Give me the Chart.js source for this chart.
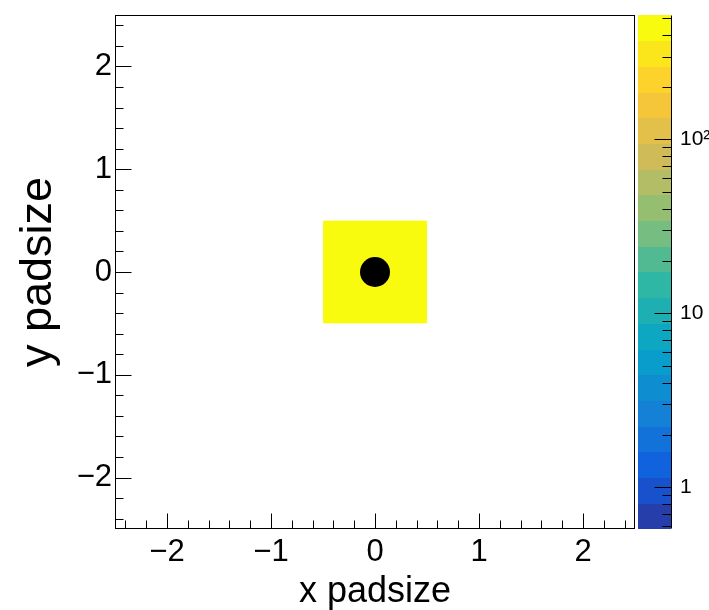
<!DOCTYPE html>
<html>
<head>
<meta charset="utf-8">
<script src="https://cdn.jsdelivr.net/npm/chart.js@4.4.0/dist/chart.umd.min.js"></script>
<style>
  html, body { margin: 0; padding: 0; background: #fff; }
  canvas { display: block; }
</style>
</head>
<body>
<canvas id="c" width="709" height="610"></canvas>
<script>
// axis ticks (ROOT style, drawn inwards)
const xMajor = [-2, -1, 0, 1, 2];
const xMinor = [-2.4, -2.2, -1.8, -1.6, -1.4, -1.2, -0.8, -0.6, -0.4, -0.2,
                0.2, 0.4, 0.6, 0.8, 1.2, 1.4, 1.6, 1.8, 2.2, 2.4];
const yMajor = [-2, -1, 0, 1, 2];
const yMinor = [-2.4, -2.2, -1.8, -1.6, -1.4, -1.2, -0.8, -0.6, -0.4, -0.2,
                0.2, 0.4, 0.6, 0.8, 1.2, 1.4, 1.6, 1.8, 2.2, 2.4];

// colour palette axis (log z)
const zMin = 0.575;
const zMax = 520;
const zMajor = [1, 10, 100];
const zLabels = ["1", "10", "10\u00b2"];
const zMinor = [0.6, 0.7, 0.8, 0.9, 2, 3, 4, 5, 6, 7, 8, 9,
                20, 30, 40, 50, 60, 70, 80, 90, 200, 300, 400, 500];
const nLevels = 20;

// 2D histogram cells (bin centre, content)
const binWidth = 1;
const cellX = [0];
const cellY = [0];
const cellZ = [500];

// marker
const pointX = [0];
const pointY = [0];

// kBird palette stops
const birdStops = [0, 0.125, 0.25, 0.375, 0.5, 0.625, 0.75, 0.875, 1];
const birdR = [0.2082, 0.0592, 0.0780, 0.0232, 0.1802, 0.5301, 0.8186, 0.9956, 0.9764];
const birdG = [0.1664, 0.3599, 0.5041, 0.6419, 0.7178, 0.7492, 0.7328, 0.7862, 0.9832];
const birdB = [0.5293, 0.8684, 0.8385, 0.7914, 0.6425, 0.4662, 0.3499, 0.1968, 0.0539];

function birdColor(f) {
  f = Math.max(0, Math.min(1, f));
  let k = 0;
  while (k < birdStops.length - 2 && f > birdStops[k + 1]) k++;
  const t = (f - birdStops[k]) / (birdStops[k + 1] - birdStops[k]);
  const c = arr => Math.round(255 * (arr[k] + (arr[k + 1] - arr[k]) * t));
  return `rgb(${c(birdR)},${c(birdG)},${c(birdB)})`;
}

function levelColor(i) {
  return birdColor((i + 0.99) / nLevels);
}

function levelOf(z) {
  const lo = Math.log10(zMin), hi = Math.log10(zMax);
  const i = Math.floor((Math.log10(z) - lo) / ((hi - lo) / nLevels));
  return Math.max(0, Math.min(nLevels - 1, i));
}

const fmt = v => (v < 0 ? "\u2212" + Math.abs(v) : String(v));
const FONT = "'Liberation Sans', Arial, Helvetica, sans-serif";

// fixed box sizes, no extra label padding
const fixSize = (w, h) => s => {
  if (w) s.width = w;
  if (h) s.height = h;
  s.paddingTop = 0; s.paddingBottom = 0;
  s.paddingLeft = 0; s.paddingRight = 0;
};

const rootPlot = {
  id: "rootPlot",
  beforeDatasetsDraw(chart) {
    const { ctx, chartArea: a, scales } = chart;
    const xs = scales.x, ys = scales.y, zs = scales.z;

    // histogram cells
    ctx.save();
    ctx.beginPath();
    ctx.rect(a.left, a.top, a.right - a.left, a.bottom - a.top);
    ctx.clip();
    cellZ.forEach((z, i) => {
      const x0 = xs.getPixelForValue(cellX[i] - binWidth / 2);
      const x1 = xs.getPixelForValue(cellX[i] + binWidth / 2);
      const y0 = ys.getPixelForValue(cellY[i] + binWidth / 2);
      const y1 = ys.getPixelForValue(cellY[i] - binWidth / 2);
      ctx.fillStyle = levelColor(levelOf(z));
      ctx.fillRect(x0, y0, x1 - x0, y1 - y0);
    });
    ctx.restore();

    // palette bands
    const lo = Math.log10(zMin), hi = Math.log10(zMax);
    const barL = a.right + 3, barR = a.right + 36;
    ctx.save();
    for (let i = 0; i < nLevels; i++) {
      const yb = zs.getPixelForValue(Math.pow(10, lo + (hi - lo) * i / nLevels));
      const yt = zs.getPixelForValue(Math.pow(10, lo + (hi - lo) * (i + 1) / nLevels));
      ctx.fillStyle = levelColor(i);
      ctx.fillRect(barL, Math.floor(yt), barR - barL, Math.ceil(yb) - Math.floor(yt));
    }
    ctx.restore();
  },
  afterDraw(chart) {
    const { ctx, chartArea: a, scales } = chart;
    const xs = scales.x, ys = scales.y, zs = scales.z;
    const L = Math.round(a.left) + 0.5, R = Math.round(a.right) - 0.5;
    const T = Math.round(a.top) + 0.5, B = Math.round(a.bottom) - 0.5;
    ctx.save();
    ctx.strokeStyle = "#000";
    ctx.lineWidth = 1;
    ctx.strokeRect(L, T, R - L, B - T);

    ctx.beginPath();
    const tickX = (vals, len) => vals.forEach(v => {
      const px = Math.round(xs.getPixelForValue(v)) + 0.5;
      ctx.moveTo(px, B); ctx.lineTo(px, B - len);
    });
    const tickY = (vals, len) => vals.forEach(v => {
      const py = Math.round(ys.getPixelForValue(v)) + 0.5;
      ctx.moveTo(L, py); ctx.lineTo(L + len, py);
    });
    tickX(xMajor, 15); tickX(xMinor, 8);
    tickY(yMajor, 16); tickY(yMinor, 8);

    // palette axis
    const barR = Math.round(a.right) + 36 + 0.5;
    ctx.moveTo(barR, T); ctx.lineTo(barR, B);
    const tickZ = (vals, len) => vals.forEach(v => {
      const py = Math.round(zs.getPixelForValue(v)) + 0.5;
      ctx.moveTo(barR, py); ctx.lineTo(barR - len, py);
    });
    tickZ(zMajor, 17); tickZ(zMinor, 9);
    ctx.stroke();
    ctx.restore();
  }
};

new Chart(document.getElementById("c"), {
  type: "scatter",
  data: {
    datasets: [{
      data: pointX.map((x, i) => ({ x: x, y: pointY[i] })),
      backgroundColor: "#000",
      borderWidth: 0,
      pointRadius: 15,
      pointHoverRadius: 15
    }]
  },
  options: {
    responsive: false,
    animation: false,
    devicePixelRatio: 1,
    layout: { padding: { top: 14, left: 0, right: 0, bottom: 0 } },
    plugins: { legend: { display: false }, tooltip: { enabled: false } },
    scales: {
      x: {
        type: "linear",
        position: "bottom",
        min: -2.5,
        max: 2.5,
        grid: { display: false, drawTicks: false },
        border: { display: false },
        afterBuildTicks: s => { s.ticks = xMajor.map(v => ({ value: v })); },
        afterFit: fixSize(0, 81),
        ticks: {
          autoSkip: false, maxRotation: 0, padding: 5, color: "#000",
          font: { family: FONT, size: 31 },
          callback: v => fmt(v)
        },
        title: {
          display: true, text: "x padsize", color: "#000",
          font: { family: FONT, size: 36, lineHeight: 1 },
          padding: { top: 0, bottom: 0 }
        }
      },
      y: {
        type: "linear",
        position: "left",
        min: -2.5,
        max: 2.5,
        grid: { display: false, drawTicks: false },
        border: { display: false },
        afterBuildTicks: s => { s.ticks = yMajor.map(v => ({ value: v })); },
        afterFit: fixSize(115, 0),
        ticks: {
          autoSkip: false, padding: 3, color: "#000",
          font: { family: FONT, size: 31 },
          callback: v => fmt(v)
        },
        title: {
          display: true, text: "y padsize", color: "#000",
          font: { family: FONT, size: 45, lineHeight: 1 },
          padding: { top: 16, bottom: 0 }
        }
      },
      z: {
        type: "logarithmic",
        position: "right",
        min: zMin,
        max: zMax,
        grid: { display: false, drawTicks: false },
        border: { display: false },
        afterBuildTicks: s => { s.ticks = zMajor.map(v => ({ value: v })); },
        afterFit: fixSize(74, 0),
        ticks: {
          autoSkip: false, padding: 45, color: "#000",
          font: { family: FONT, size: 21 },
          callback: v => zLabels[zMajor.indexOf(v)]
        }
      }
    }
  },
  plugins: [rootPlot]
});
</script>
</body>
</html>
